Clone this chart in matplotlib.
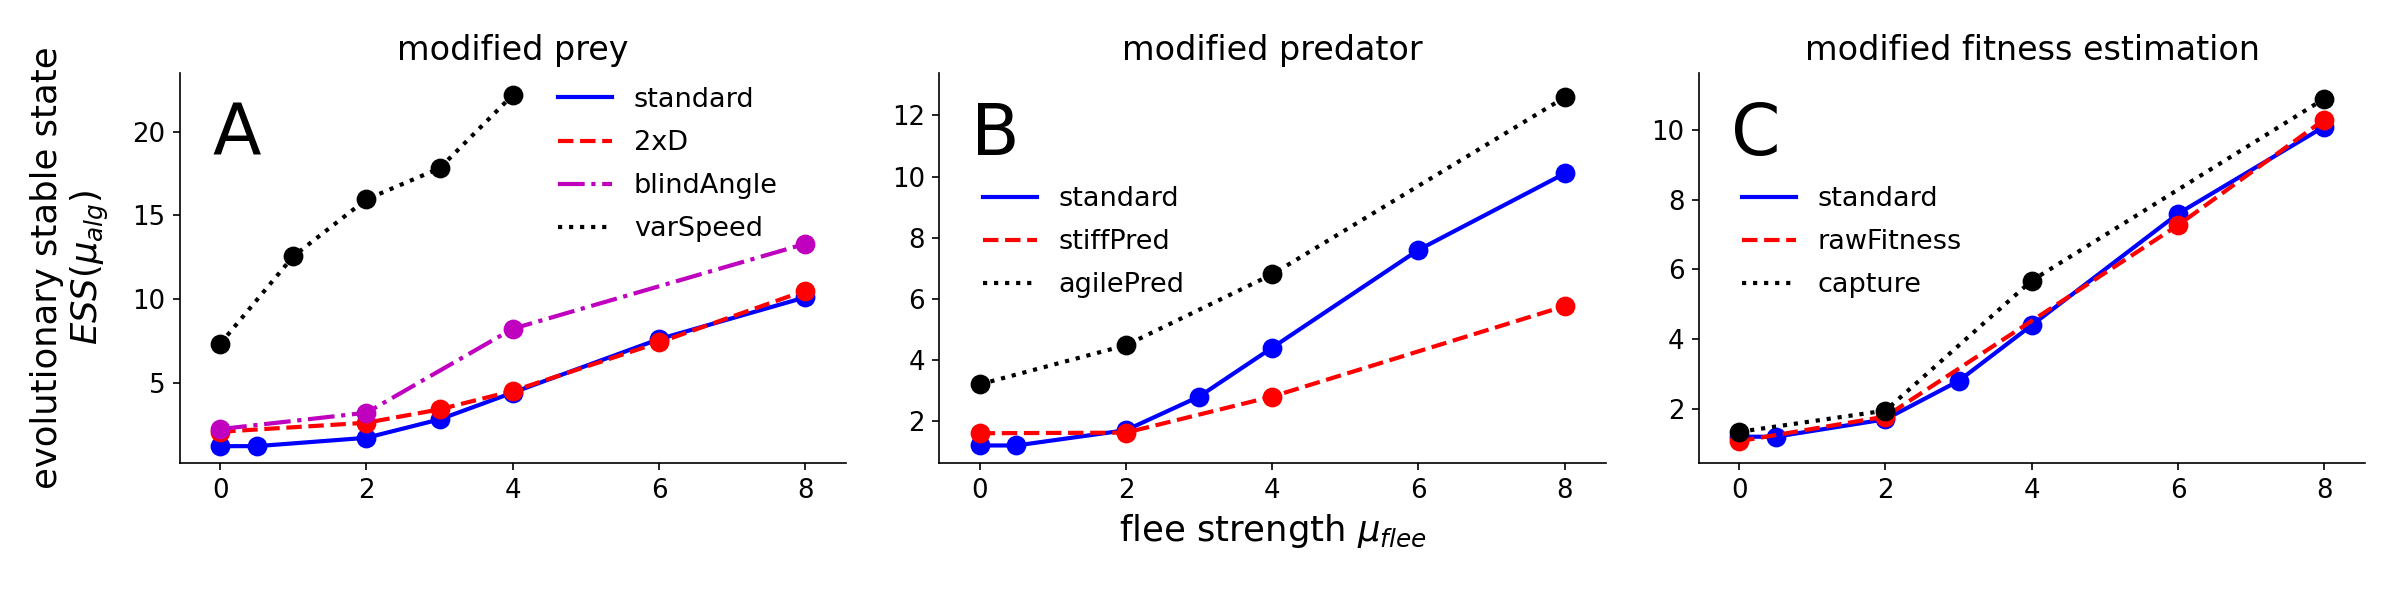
import numpy as np
import matplotlib
matplotlib.use("Agg")
import matplotlib.pyplot as plt

# flee strength values and ESS readings for each panel
x_std = [0, 0.5, 2, 3, 4, 6, 8]
y_std = [1.2, 1.2, 1.7, 2.8, 4.4, 7.6, 10.1]

# A: modified prey
x_2xd = [0, 2, 3, 4, 6, 8]
y_2xd = [2.06, 2.6, 3.4, 4.5, 7.4, 10.5]
x_blind = [0, 2, 4, 8]
y_blind = [2.22, 3.2, 8.22, 13.3]
x_varspeed = [0, 1, 2, 3, 4]
y_varspeed = [7.32, 12.56, 15.96, 17.82, 22.2]

# B: modified predator
x_stiff = [0, 2, 4, 8]
y_stiff = [1.6, 1.62, 2.8, 5.76]
x_agile = [0, 2, 4, 8]
y_agile = [3.2, 4.48, 6.8, 12.59]

# C: modified fitness estimation
x_raw = [0, 2, 6, 8]
y_raw = [1.07, 1.78, 7.27, 10.3]
x_capture = [0, 2, 4, 8]
y_capture = [1.34, 1.95, 5.68, 10.9]

titles = ["modified prey", "modified predator", "modified fitness estimation"]
letters = ["A", "B", "C"]


def draw(ax, x, y, color, ls, label):
    ax.plot(x, y, color=color, ls=ls, lw=2, label=label)
    ax.plot(x, y, "o", color=color, ms=8.5)


fig, axes = plt.subplots(1, 3, figsize=(16, 4), dpi=150)
plt.subplots_adjust(left=0.075, right=0.9855, bottom=0.228, top=0.879, wspace=0.14)

ax = axes[0]
draw(ax, x_std, y_std, "b", "-", "standard")
draw(ax, x_2xd, y_2xd, "r", "--", "2xD")
draw(ax, x_blind, y_blind, "m", "-.", "blindAngle")
draw(ax, x_varspeed, y_varspeed, "k", ":", "varSpeed")
ax.set_ylim(0.18, 23.54)
ax.legend(loc="upper left", bbox_to_anchor=(0.551, 0.991), borderaxespad=0,
          frameon=False, fontsize=13, labelspacing=0.63)
ax.set_ylabel("evolutionary stable state\n$ESS(\\mu_{alg})$", fontsize=17, labelpad=10)

ax = axes[1]
draw(ax, x_std, y_std, "b", "-", "standard")
draw(ax, x_stiff, y_stiff, "r", "--", "stiffPred")
draw(ax, x_agile, y_agile, "k", ":", "agilePred")
ax.set_ylim(0.62, 13.4)
ax.legend(loc="upper left", bbox_to_anchor=(0.049, 0.737), borderaxespad=0,
          frameon=False, fontsize=13, labelspacing=0.63)
ax.set_xlabel("flee strength $\\mu_{flee}$", fontsize=17)

ax = axes[2]
draw(ax, x_std, y_std, "b", "-", "standard")
draw(ax, x_raw, y_raw, "r", "--", "rawFitness")
draw(ax, x_capture, y_capture, "k", ":", "capture")
ax.set_ylim(0.44, 11.65)
ax.legend(loc="upper left", bbox_to_anchor=(0.048, 0.737), borderaxespad=0,
          frameon=False, fontsize=13, labelspacing=0.63)

for ax, t, letter in zip(axes, titles, letters):
    ax.set_xlim(-0.55, 8.56)
    ax.set_xticks([0, 2, 4, 6, 8])
    ax.set_title(t, fontsize=16)
    ax.text(0.048, 0.79, letter, transform=ax.transAxes, fontsize=34, va="baseline")
    ax.spines["top"].set_visible(False)
    ax.spines["right"].set_visible(False)
    ax.tick_params(labelsize=12.5)

plt.savefig("out.png")
